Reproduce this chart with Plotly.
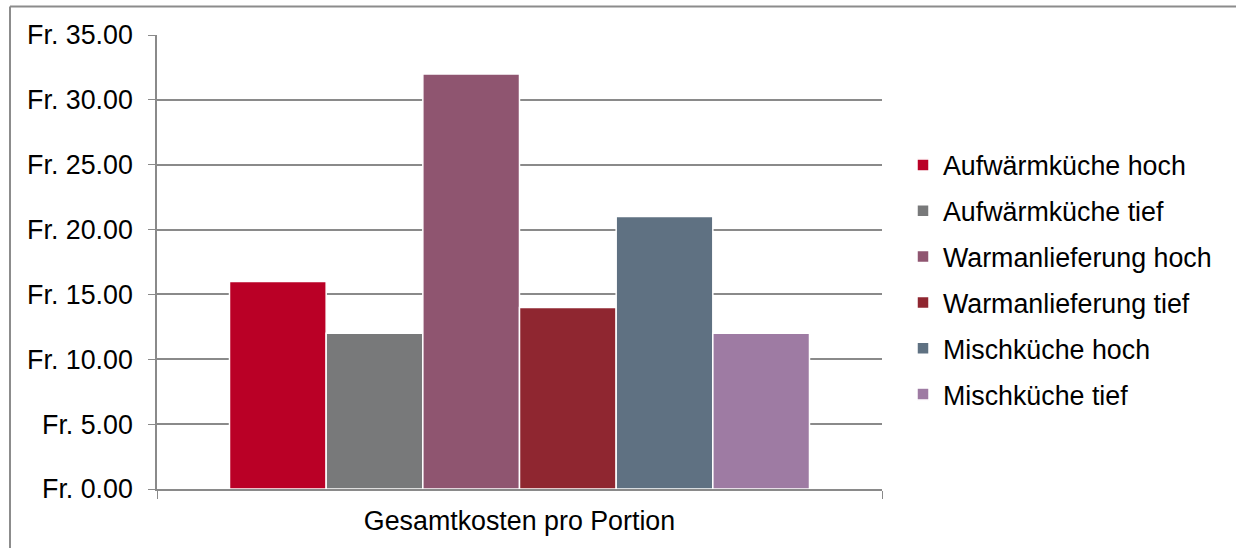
import plotly.graph_objects as go

categories = ["Gesamtkosten pro Portion"]
series_names = ["Aufwärmküche hoch", "Aufwärmküche tief", "Warmanlieferung hoch",
                "Warmanlieferung tief", "Mischküche hoch", "Mischküche tief"]
series_values = [16, 12, 32, 14, 21, 12]
series_colors = ["#BA0026", "#78797A", "#8F5570", "#8F2630", "#5F7182", "#9E7BA3"]
tick_values = [0, 5, 10, 15, 20, 25, 30, 35]
tick_labels = ["Fr. 0.00", "Fr. 5.00", "Fr. 10.00", "Fr. 15.00", "Fr. 20.00",
               "Fr. 25.00", "Fr. 30.00", "Fr. 35.00"]

FONT = "Liberation Sans, Arial, sans-serif"
FS = 26.8
W, H = 1236, 548
L, R, T, B = 157, 354, 35, 59
pw, ph = W - L - R, H - T - B

def px_x(p):
    return (p - L) / pw

def px_y(p):
    return (H - B - p) / ph

fig = go.Figure()
for name, val, col in zip(series_names, series_values, series_colors):
    fig.add_trace(go.Bar(
        x=categories, y=[val], name=name, legendgroup=name,
        marker=dict(color=col, line=dict(color="white", width=1.5)),
    ))

grid_col = "#8A8A8A"
fig.update_layout(
    width=W, height=H,
    margin=dict(l=L, r=R, t=T, b=B),
    paper_bgcolor="white", plot_bgcolor="white",
    barmode="group", bargap=0.2, bargroupgap=0,
    font=dict(family=FONT, size=FS, color="black"),
    showlegend=True,
    legend=dict(
        x=px_x(903), xanchor="left", y=px_y(280), yanchor="middle",
        traceorder="grouped", tracegroupgap=8,
        font=dict(family=FONT, size=FS, color="black"),
        bgcolor="rgba(0,0,0,0)",
    ),
    xaxis=dict(
        showline=True, linecolor=grid_col, linewidth=1.5,
        ticks="outside", tickson="boundaries", ticklen=8, tickcolor=grid_col,
        showgrid=False, tickfont=dict(size=FS), ticklabelstandoff=7,
    ),
    yaxis=dict(
        range=[0, 35], tickvals=tick_values, ticktext=tick_labels,
        showline=True, linecolor=grid_col, linewidth=1.5,
        ticks="outside", ticklen=7, tickcolor=grid_col,
        showgrid=True, gridcolor=grid_col, gridwidth=1.5,
        ticklabelstandoff=10, tickfont=dict(size=FS), zeroline=False,
    ),
    shapes=[
        dict(type="line", xref="paper", yref="paper",
             x0=px_x(10), x1=px_x(10), y0=px_y(560), y1=px_y(6.5),
             line=dict(color="#8C8C8C", width=2)),
        dict(type="line", xref="paper", yref="paper",
             x0=px_x(10), x1=px_x(1250), y0=px_y(6.5), y1=px_y(6.5),
             line=dict(color="#8C8C8C", width=2)),
    ],
)

fig.write_html("out.html")
